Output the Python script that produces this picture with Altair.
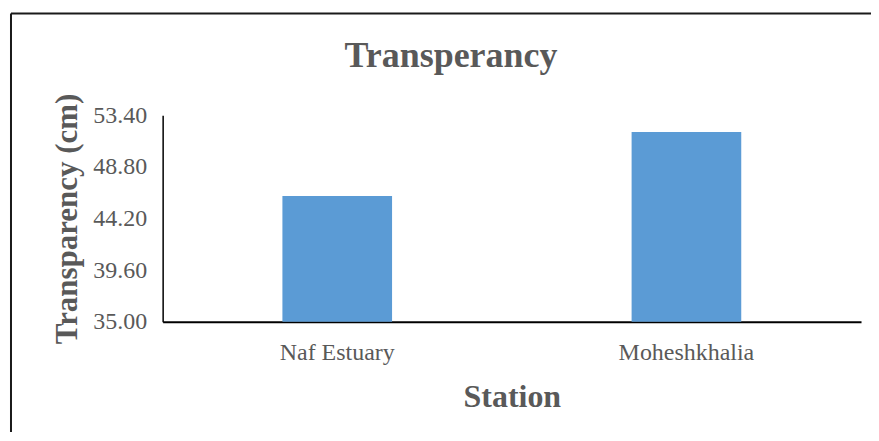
import altair as alt
import pandas as pd

stations = ["Naf Estuary", "Moheshkhalia"]
transparency = [46.2, 51.9]
y_ticks = [35.0, 39.6, 44.2, 48.8, 53.4]

df = pd.DataFrame({"Station": stations, "Transparency": transparency})

FONT = "Liberation Serif"
TEXT = "#595959"

bars = alt.Chart(df).mark_bar(color="#5B9BD5").encode(
    x=alt.X("Station:N", sort=stations,
            scale=alt.Scale(paddingInner=0.686, paddingOuter=0.343),
            axis=alt.Axis(title="Station", labelAngle=0, ticks=False, tickSize=0,
                          labelPadding=19, titlePadding=17,
                          domainColor="#000000", domainWidth=2)),
    y=alt.Y("Transparency:Q",
            scale=alt.Scale(domain=[35, 53.4], zero=False, nice=False),
            axis=alt.Axis(title="Transparency (cm)", values=y_ticks, format=".2f",
                          ticks=False, tickSize=0, grid=False, labelPadding=16,
                          titlePadding=9, domainColor="#000000", domainWidth=1.5)),
    y2=alt.datum(35),
)

frame_top = alt.Chart(alt.Data(values=[{}])).mark_rule(color="#1a1a1a", strokeWidth=2).encode(
    x=alt.value(-152), x2=alt.value(730), y=alt.value(-102)
)
frame_left = alt.Chart(alt.Data(values=[{}])).mark_rule(color="#1a1a1a", strokeWidth=2).encode(
    x=alt.value(-152), y=alt.value(-102), y2=alt.value(330)
)

chart = alt.layer(bars, frame_top, frame_left).properties(
    width=700, height=207,
    title=alt.TitleParams("Transperancy", font=FONT, fontSize=36, fontWeight="bold",
                          color=TEXT, anchor="middle", dx=-61, offset=-63),
    autosize=alt.AutoSizeParams(type="none"),
    padding={"left": 155, "top": 107, "right": 10, "bottom": 110},
).configure_view(stroke=None).configure_axis(
    labelFont=FONT, labelFontSize=24, labelColor=TEXT,
    titleFont=FONT, titleFontSize=31, titleFontWeight="bold", titleColor=TEXT,
    grid=False,
).configure_axisX(titleFontSize=32)

chart.save("out.html", embed_options={"renderer": "svg", "actions": False})
